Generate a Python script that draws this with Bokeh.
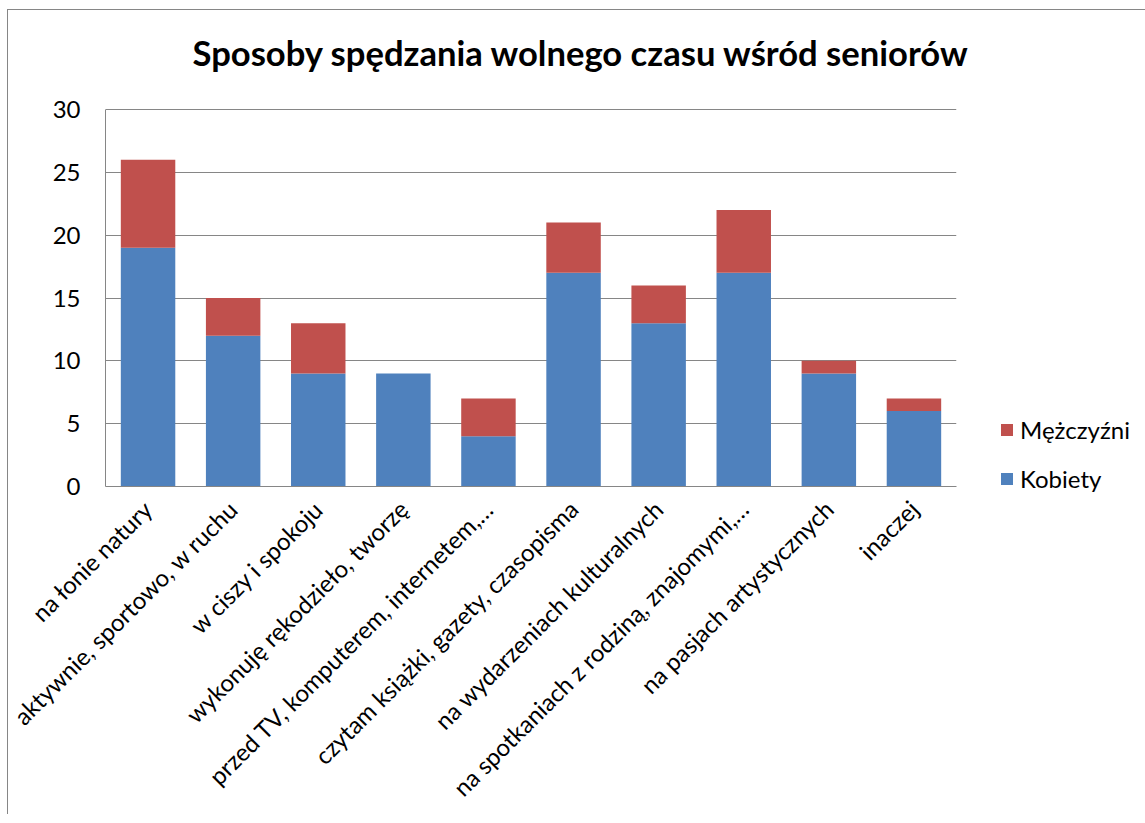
from math import pi
from bokeh.plotting import figure
from bokeh.models import Legend, LegendItem, FixedTicker, ColumnDataSource
from bokeh.embed import file_html
from bokeh.resources import INLINE

categories = [
    "na łonie natury",
    "aktywnie, sportowo, w ruchu",
    "w ciszy i spokoju",
    "wykonuję rękodzieło, tworzę",
    "przed TV, komputerem, internetem,…",
    "czytam książki, gazety, czasopisma",
    "na wydarzeniach kulturalnych",
    "na spotkaniach z rodziną, znajomymi,…",
    "na pasjach artystycznych",
    "inaczej",
]
kobiety = [19, 12, 9, 9, 4, 17, 13, 17, 9, 6]
mezczyzni = [7, 3, 4, 0, 3, 4, 3, 5, 1, 1]
series_names = ["Kobiety", "Mężczyźni"]
colors = ["#4F81BD", "#C0504D"]
y_ticks = [0, 5, 10, 15, 20, 25, 30]
title_text = "Sposoby spędzania wolnego czasu wśród seniorów"

FONT = "Lato"
# layout (pixels)
PLOT_H = 377          # height of the 0..30 area
HEADROOM = 32         # extra frame space above 30, below the title
FRAME_H = PLOT_H + HEADROOM
y_top = y_ticks[-1] * FRAME_H / PLOT_H

source = ColumnDataSource(dict(cat=categories, Kobiety=kobiety, Mezczyzni=mezczyzni))

p = figure(
    x_range=categories, y_range=(0, y_top),
    frame_width=851, frame_height=FRAME_H,
    output_backend="svg", toolbar_location=None,
    min_border_left=97, min_border_right=180,
    min_border_top=67, min_border_bottom=320,
    title=title_text,
)
p.outline_line_color = None
p.styles = {"border-left": "1px solid #868686", "border-top": "1px solid #868686",
            "margin-left": "7px", "margin-top": "9px"}

r = p.vbar_stack(["Kobiety", "Mezczyzni"], x="cat", width=0.64, color=colors,
                 line_color=None, source=source)

p.title.align = "left"
p.title.offset = 87
p.title.standoff = 10
p.title.vertical_align = "bottom"
p.title.text_font = FONT
p.title.text_font_style = "bold"
p.title.text_font_size = "34.6px"
p.title.text_color = "black"

p.xgrid.grid_line_color = None
p.ygrid.grid_line_color = "#868686"
p.ygrid.grid_line_width = 1

p.yaxis.ticker = FixedTicker(ticks=y_ticks)
p.yaxis.bounds = (y_ticks[0], y_ticks[-1])
p.yaxis.axis_line_color = "#868686"
p.yaxis.major_tick_line_color = "#868686"
p.yaxis.major_tick_out = 0
p.yaxis.major_tick_in = 0
p.yaxis.minor_tick_line_color = None
p.yaxis.major_label_standoff = 25
p.yaxis.major_label_text_font = FONT
p.yaxis.major_label_text_font_size = "24px"
p.yaxis.major_label_text_color = "black"

p.xaxis.axis_line_color = "#868686"
p.xaxis.major_tick_line_color = None
p.xaxis.minor_tick_line_color = None
p.xaxis.major_label_orientation = pi / 4
p.xaxis.major_label_standoff = 12
p.xaxis.major_label_text_font = FONT
p.xaxis.major_label_text_font_size = "24px"
p.xaxis.major_label_text_color = "black"

legend = Legend(
    items=[LegendItem(label=series_names[1], renderers=[r[1]]),
           LegendItem(label=series_names[0], renderers=[r[0]])],
    location=(43, -7), orientation="vertical",
    glyph_width=15, glyph_height=15, label_height=16, spacing=20,
    padding=0, margin=0, border_line_color=None, background_fill_alpha=0,
    label_text_font=FONT, label_text_font_size="24px", label_text_color="black",
    label_standoff=6,
)
p.add_layout(legend, "right")

open("out.html", "w").write(file_html(p, INLINE))
